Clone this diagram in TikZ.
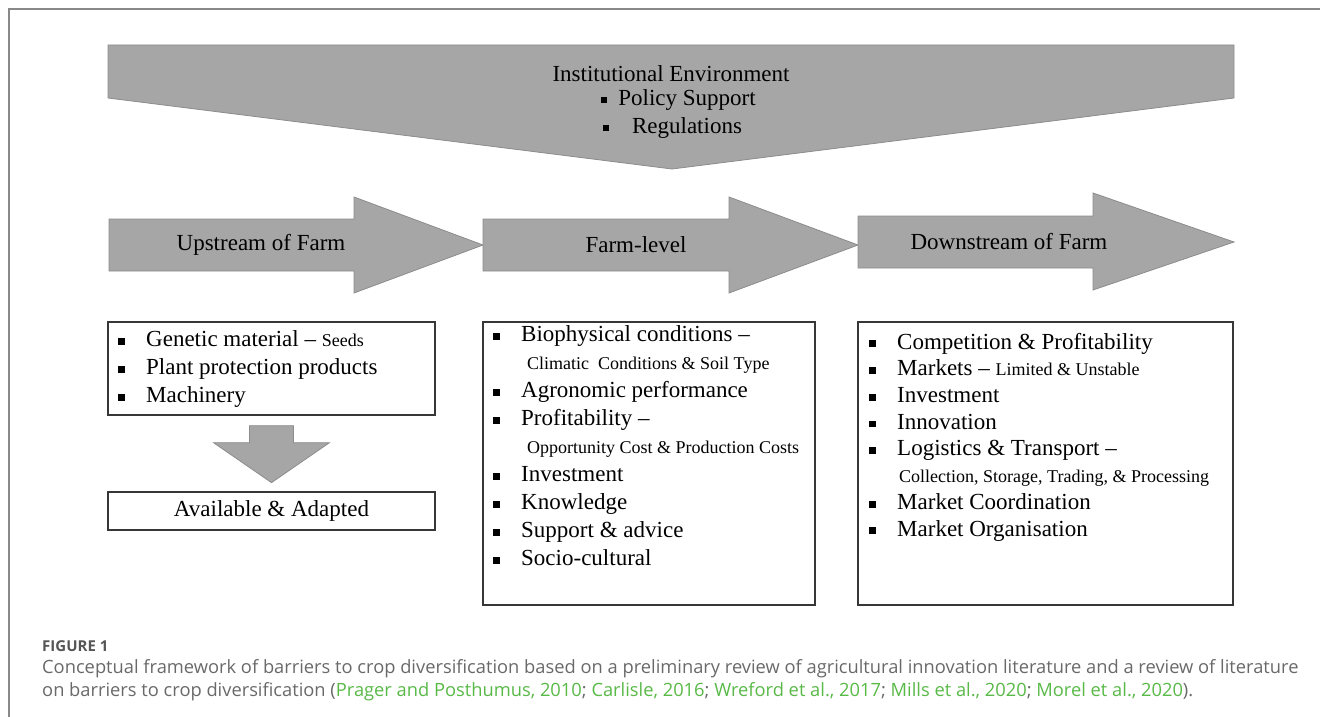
\documentclass[tikz,border=0pt]{standalone}
\usepackage{fontspec}
\setmainfont{Liberation Serif}
\newfontfamily\captionsans{Open Sans}
\usetikzlibrary{calc}

\definecolor{arrowgray}{RGB}{166,166,166}
\definecolor{arrowedge}{RGB}{140,140,140}
\definecolor{boxedge}{RGB}{55,55,55}
\definecolor{framegray}{RGB}{136,136,136}
\definecolor{captext}{RGB}{105,105,105}
\definecolor{capdark}{RGB}{85,85,85}
\definecolor{citegreen}{RGB}{88,185,71}

\newcommand{\sqb}{\makebox[28pt][l]{\rule[0.08em]{0.3em}{0.3em}}}
\newcommand{\smalltxt}[1]{{\fontsize{18}{20}\selectfont #1}}

\begin{document}
\begin{tikzpicture}[x=1pt, y=-1pt,
	every node/.style={font=\fontsize{23}{28}\selectfont, inner sep=0pt},
	blockarrow/.style={fill=arrowgray, draw=arrowedge, line width=0.8pt},
	listbox/.style={draw=boxedge, line width=1.3pt, fill=white},
	listtext/.style={align=left, anchor=north west},
	caption/.style={font=\captionsans\fontsize{18.3}{20}\selectfont, text=captext, anchor=base west}]

	\useasboundingbox (0,0) rectangle (1320,717);
	\draw[framegray, line width=2pt] (9,717) -- (9,9) -- (1320,9);

	% institutional environment
	\draw[blockarrow] (108,45) -- (1234,45) -- (1234,98) -- (672,169) -- (108,98) -- cycle;
	\node (inst) at (671,74) {Institutional Environment};
	\node (policy) at (687,100) {Policy Support};
	\node (regs) at (687,128) {Regulations};
	\node (policy-b) at (604,100) {\rule{0.3em}{0.3em}};
	\node (regs-b) at (606,128) {\rule{0.3em}{0.3em}};

	% supply chain
	\draw[blockarrow] (109,219) -- (354,219) -- (354,197) -- (483,245) -- (354,293) -- (354,271) -- (109,271) -- cycle;
	\draw[blockarrow] (483,219) -- (729,219) -- (729,197) -- (858,245) -- (729,293) -- (729,271) -- (483,271) -- cycle;
	\draw[blockarrow] (858,216) -- (1093,216) -- (1093,193) -- (1234,242) -- (1093,290) -- (1093,268) -- (858,268) -- cycle;
	\node (upstream) at (261,245) {Upstream of Farm};
	\node (farmlevel) at (636,245) {Farm-level};
	\node (downstream) at (1009,242) {Downstream of Farm};

	% barrier boxes
	\node[listbox, minimum width=327pt, minimum height=93pt] (upbox) at (271.5,368.5) {};
	\node[listbox, minimum width=327pt, minimum height=38pt] (availbox) at (271.5,511) {Available \& Adapted};
	\node[listbox, minimum width=332pt, minimum height=283pt] (farmbox) at (649,463.5) {};
	\node[listbox, minimum width=375pt, minimum height=283pt] (downbox) at (1045.5,463.5) {};

	\draw[blockarrow, shift={(upbox.south)}] (-22,10) -- (22,10) -- (22,27) -- (58,27) -- (0,67) -- (-58,27) -- (-22,27) -- cycle;

	\node[listtext] (uplist) at (118,330.8) {%
		\sqb Genetic material -- \smalltxt{Seeds}\\
		\sqb Plant protection products\\
		\sqb Machinery};
	\node[listtext] (farmlist) at (493,325.8) {%
		\sqb Biophysical conditions --\\
		\hspace*{34pt}\smalltxt{Climatic\ \ Conditions \& Soil Type}\\
		\sqb Agronomic performance\\
		\sqb Profitability --\\
		\hspace*{34pt}\smalltxt{Opportunity Cost \& Production Costs}\\
		\sqb Investment\\
		\sqb Knowledge\\
		\sqb Support \& advice\\
		\sqb Socio-cultural};
	\node[listtext, font=\fontsize{23}{26.7}\selectfont] (downlist) at (869,332.8) {%
		\sqb Competition \& Profitability\\
		\sqb Markets -- \smalltxt{Limited \& Unstable}\\
		\sqb Investment\\
		\sqb Innovation\\
		\sqb Logistics \& Transport --\\
		\hspace*{30pt}\smalltxt{Collection, Storage, Trading, \& Processing}\\
		\sqb Market Coordination\\
		\sqb Market Organisation};

	% caption
	\node[caption, font=\captionsans\bfseries\fontsize{15}{16}\selectfont, text=capdark] (figno) at (42,651) {FIGURE 1};
	\node[caption] (capline1) at (42,673) {Conceptual framework of barriers to crop diversification based on a preliminary review of agricultural innovation literature and a review of literature};
	\node[caption] (capline2) at (42,696) {on barriers to crop diversification (\textcolor{citegreen}{Prager and Posthumus, 2010}; \textcolor{citegreen}{Carlisle, 2016}; \textcolor{citegreen}{Wreford et al., 2017}; \textcolor{citegreen}{Mills et al., 2020}; \textcolor{citegreen}{Morel et al., 2020}).};

\end{tikzpicture}
\end{document}
